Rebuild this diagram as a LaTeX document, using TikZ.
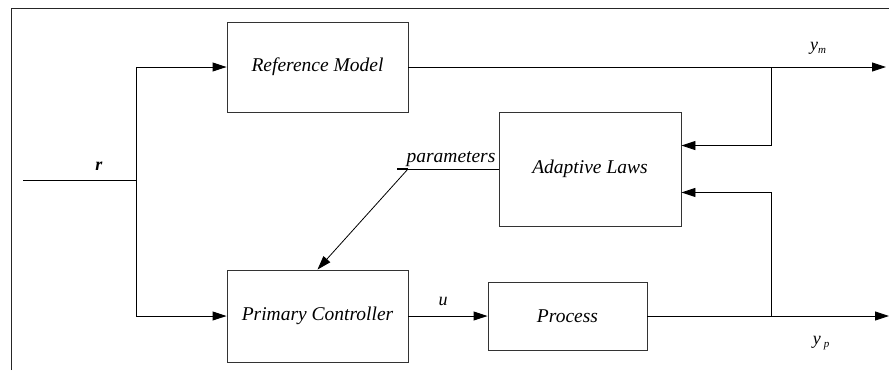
\documentclass[tikz,border=0pt]{standalone}
\usepackage{fontspec}
\setmainfont{Liberation Serif}
\usetikzlibrary{arrows.meta}
\begin{document}
\begin{tikzpicture}[x=1pt,y=-1pt,
  blk/.style={draw=black!80, line width=0.9pt, minimum width=181pt, inner sep=0pt,
    font=\fontsize{19.5}{21}\selectfont\itshape},
  sig/.style={line width=0.9pt, -{Triangle[length=14pt,width=9pt]}},
  wire/.style={line width=0.9pt},
  lbl/.style={font=\fontsize{18}{20}\selectfont\itshape, inner sep=0pt}]
\useasboundingbox (0,0) rectangle (889,370);
% partial outer frame
\draw[black!85, line width=1pt] (11,370) -- (11,8) -- (889,8);

% blocks
\node[blk, minimum height=90pt] (ref) at (317.5,67) {Reference Model};
\node[blk, minimum width=182pt, minimum height=114pt] (adapt) at (590,169) {Adaptive Laws};
\node[blk, minimum height=92pt] (ctrl) at (317.5,316) {Primary Controller};
\node[blk, minimum width=159pt, minimum height=68pt] (proc) at (567.5,316) {Process};

% junctions and free ends
\coordinate (rin) at (23,180);
\coordinate (rsplit) at (136,180);
\coordinate (ymsplit) at (771,67);
\coordinate (ymout) at (886,67);
\coordinate (ypsplit) at (771,316);
\coordinate (ypout) at (889,316);
\coordinate (pstart) at (397,169);
\coordinate (pdiag) at (408,169);

% signal flow
\draw[wire] (rin) -- (rsplit);
\draw[sig] (rsplit) |- (ref.west);
\draw[sig] (rsplit) |- (ctrl.west);
\draw[sig] (ref.east) -- (ymout);
\draw[sig] (ymsplit) |- ([yshift=-34pt]adapt.north east);
\draw[sig] (ctrl.east) -- (proc.west);
\draw[sig] (proc.east) -- (ypout);
\draw[sig] (ypsplit) |- ([yshift=34pt]adapt.south east);
\draw[wire] (adapt.west) -- (pstart);
\draw[line width=2.2pt] (pstart) -- (pdiag);
\draw[sig, line width=0.8pt] (pdiag) -- (ctrl.north);

% signal labels
\node[lbl, font=\fontsize{18}{20}\selectfont\bfseries\itshape] (rl) at (99,166) {r};
\node[lbl] (ul) at (443,301) {u};
\node[lbl] (ym) at (818,48) {y\raisebox{-0.35ex}{\fontsize{11}{12}\selectfont\itshape m}};
\node[lbl] (yp) at (821,343) {y\,\raisebox{-0.35ex}{\fontsize{11}{12}\selectfont\itshape p}};
\node[font=\fontsize{19.5}{21}\selectfont\itshape, anchor=base, inner sep=0pt] (par) at (451,162) {parameters};
\end{tikzpicture}
\end{document}
